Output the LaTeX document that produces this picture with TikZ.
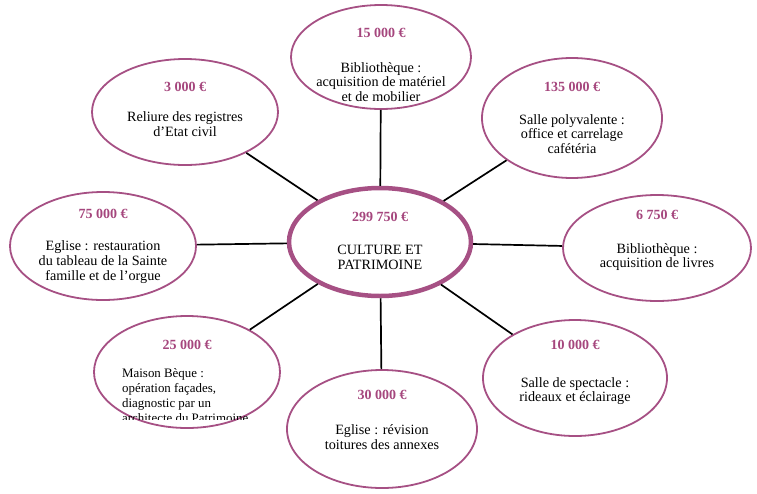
\documentclass[tikz,border=0pt]{standalone}
\usepackage{fontspec}
\setmainfont{Liberation Serif}
\usetikzlibrary{shapes.geometric}
\definecolor{pinkline}{RGB}{166,80,132}
\definecolor{pinktext}{RGB}{165,70,125}
\tikzset{
  bub/.style={ellipse, draw=pinkline, line width=1.8pt, inner sep=0pt},
  hub/.style={ellipse, draw=pinkline, line width=4.5pt, inner sep=0pt},
  amt/.style={text=pinktext, font=\fontsize{14}{15}\selectfont\bfseries, inner sep=0pt},
  body/.style={align=center, font=\fontsize{14.2}{14.8}\selectfont, inner sep=0pt},
  bodyl/.style={align=left, font=\fontsize{12.9}{15}\selectfont, inner sep=0pt, anchor=north west},
  link/.style={draw=black, line width=1.7pt}
}
\begin{document}
\begin{tikzpicture}[x=1pt,y=-1pt]
\useasboundingbox (0,0) rectangle (757,493);
% ellipses
\node[hub, minimum width=182pt, minimum height=108pt] (c) at (380,242) {};
\node[bub, minimum width=180pt, minimum height=104pt] (n1) at (381,57) {};
\node[bub, minimum width=186pt, minimum height=106pt] (n2) at (185,112) {};
\node[bub, minimum width=180pt, minimum height=120pt] (n3) at (572,118) {};
\node[bub, minimum width=186pt, minimum height=108pt] (n4) at (103,246) {};
\node[bub, minimum width=188pt, minimum height=106pt] (n5) at (657,248) {};
\node[bub, minimum width=186pt, minimum height=112pt] (n6) at (187,372) {};
\node[bub, minimum width=190pt, minimum height=118pt] (n7) at (382,429) {};
\node[bub, minimum width=184pt, minimum height=116pt] (n8) at (575,378) {};
% connectors
\foreach \n in {n1,n2,n3,n4,n5,n6,n7,n8}{
  \draw[link] (c) -- (\n);
}
% texts
\node[amt] (ca) at (380,217) {299 750 €};
\node[body] (cb) at (380,257) {CULTURE ET\\PATRIMOINE};

\node[amt] (n1a) at (381,33) {15 000 €};
\node[body] (n1b) at (381,82) {Bibliothèque :\\acquisition de matériel\\et de mobilier};

\node[amt] (n2a) at (185,87) {3 000 €};
\node[body] (n2b) at (185,124) {Reliure des registres\\d’Etat civil};

\node[amt] (n3a) at (572,87) {135 000 €};
\node[body] (n3b) at (572,134) {Salle polyvalente :\\office et carrelage\\cafétéria};

\node[amt] (n4a) at (103,214) {75 000 €};
\node[body] (n4b) at (103,262) {Eglise : restauration\\du tableau de la Sainte\\famille et de l’orgue};

\node[amt] (n5a) at (657,215) {6 750 €};
\node[body] (n5b) at (657,257) {Bibliothèque :\\acquisition de livres};

\node[amt] (n6a) at (187,345) {25 000 €};
\begin{scope}
\clip (100,300) rectangle (290,419);
\node[bodyl] (n6b) at (122,368) {Maison Bèque :\\opération façades,\\diagnostic par un\\architecte du Patrimoine};
\end{scope}

\node[amt] (n7a) at (382,395) {30 000 €};
\node[body] (n7b) at (382,437) {Eglise : révision\\toitures des annexes};

\node[amt] (n8a) at (575,345) {10 000 €};
\node[body] (n8b) at (575,391) {Salle de spectacle :\\rideaux et éclairage};
\end{tikzpicture}
\end{document}
